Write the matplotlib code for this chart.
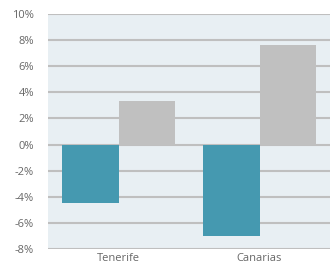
import matplotlib.pyplot as plt
import numpy as np

categories = ['Tenerife', 'Canarias']
serie_a = [-4.44, -6.97]
serie_b = [3.37, 7.59]
yticks = [-8, -6, -4, -2, 0, 2, 4, 6, 8, 10]

plt.rcParams['font.family'] = ['Open Sans', 'DejaVu Sans']

fig = plt.figure(figsize=(3.31, 2.66), dpi=100)
ax = fig.add_axes([48/331, 17/266, 282/331, 235/266])
ax.set_facecolor('#E8EFF3')

x = np.arange(len(categories))
w = 0.4
ax.bar(x - w/2, serie_a, w, color='#4599B0', zorder=3)
ax.bar(x + w/2, serie_b, w, color='#C0C0C0', zorder=3)

ax.set_xlim(-0.5, 1.5)
ax.set_ylim(-8, 10)
ax.set_yticks(yticks)
ax.set_yticklabels([f'{v}%' for v in yticks])
ax.set_xticks(x)
ax.set_xticklabels(categories)
ax.yaxis.grid(True, color='#BFBFBF', linewidth=1.5, zorder=1)
for s in ax.spines.values():
    s.set_visible(False)
ax.tick_params(axis='both', length=0, labelsize=8, colors='#666666')
ax.tick_params(axis='y', pad=10)
ax.tick_params(axis='x', pad=3)

fig.savefig('out.png', dpi=100)
